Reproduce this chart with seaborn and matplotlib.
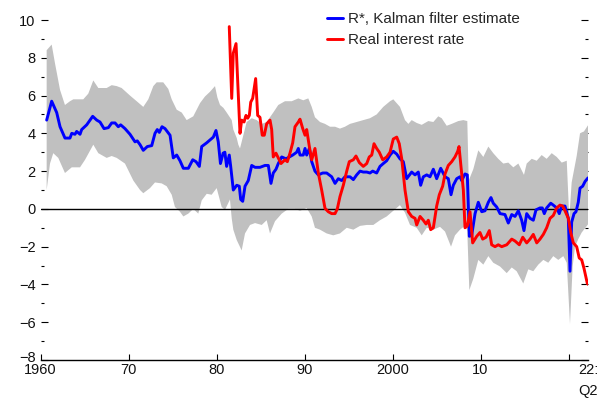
import numpy as np
import pandas as pd
import matplotlib
matplotlib.use("Agg")
import matplotlib.pyplot as plt
import matplotlib.transforms as mtransforms
import seaborn as sns

# R* (Kalman filter estimate), quarterly dates as decimal years
rstar_years = [1960.70, 1961.27, 1961.84, 1962.22, 1962.78, 1963.35, 1963.55, 1963.92, 1964.11, 1964.49,
               1964.68, 1965.25, 1965.93, 1966.39, 1966.76, 1967.22, 1967.71, 1968.09, 1968.47, 1968.84,
               1969.11, 1969.60, 1970.17, 1970.74, 1971.00, 1971.31, 1971.68, 1972.14, 1972.64, 1973.01,
               1973.27, 1973.50, 1973.81, 1974.15, 1974.72, 1975.09, 1975.48, 1975.85, 1976.23, 1976.80,
               1977.30, 1977.67, 1978.05, 1978.32, 1978.89, 1979.26, 1979.64, 1979.94, 1980.20, 1980.45,
               1980.75, 1980.95, 1981.15, 1981.45, 1981.60, 1981.91, 1982.30, 1982.59, 1982.75, 1982.98,
               1983.24, 1983.61, 1984.00, 1984.38, 1984.94, 1985.51, 1985.89, 1986.19, 1986.45, 1986.76,
               1987.02, 1987.41, 1987.90, 1988.27, 1988.66, 1989.11, 1989.30, 1989.49, 1989.86, 1990.06,
               1990.25, 1990.55, 1990.82, 1991.19, 1991.57, 1992.07, 1992.52, 1993.09, 1993.47, 1993.84,
               1994.23, 1994.60, 1995.17, 1995.55, 1995.93, 1996.31, 1996.68, 1997.07, 1997.44, 1997.75,
               1998.20, 1998.58, 1998.95, 1999.34, 1999.72, 2000.09, 2000.48, 2000.85, 2001.23, 2001.61,
               2002.18, 2002.56, 2002.93, 2003.20, 2003.50, 2003.89, 2004.26, 2004.64, 2005.02, 2005.48,
               2005.97, 2006.34, 2006.65, 2006.91, 2007.30, 2007.67, 2007.86, 2008.24, 2008.50, 2008.73,
               2009.00, 2009.38, 2009.75, 2010.14, 2010.51, 2010.89, 2011.19, 2011.45, 2011.84, 2012.22,
               2012.78, 2013.16, 2013.55, 2013.92, 2014.30, 2014.68, 2014.94, 2015.25, 2015.63, 2016.00,
               2016.31, 2016.76, 2017.02, 2017.25, 2017.52, 2017.98, 2018.27, 2018.66, 2018.95, 2019.23,
               2019.60, 2019.98, 2020.17, 2020.36, 2020.63, 2020.85, 2021.11, 2021.31, 2021.61, 2021.88,
               2022.14, 2022.25]
rstar_values = [4.7, 5.7, 5.1, 4.35, 3.75, 3.75, 4.0, 3.95, 4.1, 3.95,
                4.2, 4.45, 4.9, 4.7, 4.6, 4.25, 4.3, 4.55, 4.55, 4.35,
                4.45, 4.25, 3.95, 3.55, 3.6, 3.4, 3.1, 3.3, 3.35, 4.0,
                4.2, 4.05, 4.35, 4.25, 3.9, 2.7, 2.85, 2.55, 2.15, 2.15,
                2.6, 2.5, 2.25, 3.3, 3.5, 3.65, 3.8, 4.15, 3.55, 2.4,
                2.95, 3.0, 2.25, 2.85, 2.3, 1.0, 1.25, 1.2, 0.5, 0.4,
                1.2, 1.5, 2.3, 2.2, 2.2, 2.3, 2.3, 1.35, 1.9, 2.1,
                2.4, 2.75, 2.65, 2.75, 2.85, 3.0, 3.2, 2.85, 2.85, 3.2,
                2.85, 3.2, 2.5, 2.0, 1.8, 1.9, 1.9, 1.7, 1.35, 1.6,
                1.5, 1.7, 1.7, 1.55, 1.8, 2.0, 1.95, 1.95, 1.9, 2.0,
                1.9, 2.25, 2.4, 2.55, 2.85, 3.05, 2.9, 2.65, 2.5, 1.6,
                1.95, 1.8, 1.95, 1.25, 1.7, 1.8, 1.7, 2.1, 1.6, 2.15,
                1.7, 1.6, 0.75, 1.25, 1.6, 1.7, 1.5, 1.85, 1.8, -1.45,
                -1.4, -0.25, 0.35, -0.15, -0.1, 0.35, 0.6, 0.3, 0.1, -0.25,
                -0.3, -0.75, -0.3, -0.4, -0.1, -0.6, -1.15, -0.25, -0.5, -0.6,
                -0.05, 0.05, 0.05, -0.25, 0.05, 0.3, 0.2, 0.05, -0.25, 0.15,
                0.15, -0.5, -3.3, -0.7, -0.25, -0.15, 0.35, 1.1, 1.2, 1.45,
                1.6, 1.65]

# Real interest rate
real_years = [1981.45, 1981.73, 1981.91, 1982.22, 1982.67, 1982.86, 1983.13, 1983.35, 1983.55, 1983.73,
              1983.89, 1984.11, 1984.45, 1984.68, 1984.94, 1985.20, 1985.43, 1985.70, 1986.08, 1986.27,
              1986.45, 1986.76, 1987.02, 1987.33, 1987.78, 1988.05, 1988.35, 1988.66, 1988.92, 1989.30,
              1989.49, 1989.80, 1990.06, 1990.25, 1990.55, 1990.82, 1991.19, 1991.57, 1991.95, 1992.33,
              1992.70, 1993.09, 1993.47, 1993.73, 1994.03, 1994.41, 1994.80, 1995.09, 1995.55, 1995.85,
              1996.23, 1996.68, 1997.07, 1997.36, 1997.64, 1997.90, 1998.20, 1998.50, 1998.89, 1999.34,
              1999.72, 2000.09, 2000.48, 2000.77, 2001.05, 2001.42, 2001.80, 2002.18, 2002.56, 2002.75,
              2003.13, 2003.50, 2003.81, 2004.07, 2004.34, 2004.64, 2005.02, 2005.32, 2005.70, 2005.97,
              2006.34, 2006.73, 2007.10, 2007.41, 2007.56, 2007.78, 2008.05, 2008.24, 2008.50, 2008.81,
              2009.11, 2009.57, 2009.94, 2010.25, 2010.63, 2011.00, 2011.27, 2011.65, 2012.02, 2012.41,
              2012.98, 2013.55, 2013.92, 2014.41, 2014.80, 2015.25, 2015.63, 2016.00, 2016.39, 2016.76,
              2017.14, 2017.52, 2017.90, 2018.27, 2018.66, 2019.03, 2019.34, 2019.60, 2019.98, 2020.25,
              2020.55, 2020.93, 2021.22, 2021.50, 2021.76, 2022.14, 2022.25]
real_values = [9.65, 5.85, 8.25, 8.75, 4.0, 4.7, 4.6, 4.95, 4.8, 4.95,
               5.65, 5.85, 6.9, 4.95, 4.85, 3.9, 3.9, 4.5, 4.7, 4.2,
               2.75, 2.95, 2.7, 2.4, 2.6, 2.5, 2.95, 3.5, 4.35, 4.6,
               4.75, 4.25, 3.9, 4.2, 3.3, 2.6, 3.2, 1.9, 1.0, 0.03,
               -0.15, -0.25, -0.25, 0.0, 0.65, 1.25, 2.0, 2.5, 2.6, 2.8,
               2.45, 2.25, 2.4, 2.75, 2.85, 3.45, 3.2, 3.0, 2.6, 2.75,
               3.0, 3.7, 3.8, 3.45, 2.65, 1.0, -0.15, -0.4, -0.5, -0.85,
               -0.4, -0.6, -0.8, -0.6, -1.1, -1.0, 0.15, 0.75, 1.2, 1.85,
               2.3, 2.5, 2.75, 3.05, 3.3, 2.25, 1.0, -1.0, -0.9, -0.15,
               -1.8, -1.45, -1.25, -1.6, -1.5, -1.15, -1.9, -2.0, -1.9, -2.0,
               -1.9, -1.6, -1.7, -1.9, -1.5, -1.8, -1.6, -1.35, -1.8, -1.6,
               -1.35, -1.0, -0.5, -0.35, 0.05, 0.2, 0.15, -0.1, -0.5, -1.25,
               -1.8, -2.0, -2.6, -2.7, -3.15, -3.95, -4.0]

# Confidence band around R*: upper edge
band_upper_years = [1960.70, 1961.27, 1961.65, 1962.22, 1962.78, 1963.35, 1963.73, 1964.86, 1965.43, 1966.00,
                    1966.57, 1967.52, 1968.09, 1968.66, 1969.22, 1970.17, 1970.93, 1971.68, 1972.25, 1972.82,
                    1973.20, 1973.95, 1974.52, 1974.91, 1975.48, 1976.05, 1976.61, 1977.36, 1978.13, 1978.69,
                    1979.26, 1979.83, 1980.10, 1980.40, 1980.78, 1981.16, 1981.73, 1981.91, 1982.30, 1982.48,
                    1982.67, 1983.05, 1983.43, 1984.00, 1984.57, 1985.14, 1985.70, 1986.45, 1987.02, 1987.78,
                    1988.55, 1989.30, 1989.86, 1990.43, 1990.82, 1991.19, 1991.76, 1992.33, 1992.90, 1993.47,
                    1994.03, 1994.60, 1995.17, 1995.93, 1996.68, 1997.44, 1998.20, 1998.95, 1999.72, 2000.09,
                    2000.85, 2001.42, 2001.80, 2002.18, 2002.75, 2003.32, 2004.07, 2004.64, 2005.20, 2005.59,
                    2006.16, 2006.73, 2007.48, 2008.05, 2008.50, 2008.66, 2009.18, 2009.75, 2010.32, 2010.89,
                    2011.45, 2012.02, 2012.59, 2013.16, 2013.73, 2014.30, 2014.94, 2015.25, 2015.82, 2016.39,
                    2016.95, 2017.52, 2018.09, 2018.66, 2019.23, 2019.80, 2020.09, 2020.36, 2020.93, 2021.31,
                    2021.76, 2022.25]
band_upper_values = [8.4, 8.7, 7.7, 6.3, 5.5, 5.7, 5.8, 5.8, 6.1, 6.8,
                     6.4, 6.4, 6.55, 6.5, 6.4, 6.0, 5.7, 5.4, 5.8, 6.5,
                     6.7, 6.7, 6.35, 5.8, 5.25, 5.1, 4.7, 4.9, 5.6, 5.95,
                     6.2, 6.5, 5.9, 5.5, 5.35, 5.1, 4.7, 4.2, 3.75, 3.4,
                     3.2, 3.9, 4.6, 4.8, 4.7, 4.5, 4.6, 5.1, 5.5, 5.7,
                     5.7, 5.85, 5.75, 5.85, 5.4, 4.85, 4.6, 4.5, 4.35, 4.35,
                     4.25, 4.35, 4.5, 4.6, 4.7, 4.8, 5.0, 5.4, 5.7, 5.8,
                     5.4, 4.7, 4.5, 4.7, 4.55, 4.45, 4.65, 4.6, 4.9, 4.8,
                     4.4, 4.5, 4.65, 4.7, 4.65, 1.5, 2.1, 3.1, 2.75, 3.3,
                     2.95, 2.65, 2.4, 2.45, 2.2, 2.4, 1.8, 2.4, 2.65, 2.55,
                     2.85, 2.65, 2.95, 2.75, 2.45, 2.55, -0.5, 1.4, 2.8, 4.0,
                     4.1, 4.45]

# Confidence band around R*: lower edge
band_lower_years = [1960.70, 1961.08, 1961.45, 1962.02, 1962.78, 1963.55, 1964.49, 1965.06, 1966.00, 1966.57,
                    1967.52, 1968.09, 1968.66, 1969.60, 1970.55, 1971.31, 1971.68, 1972.44, 1973.01, 1973.77,
                    1974.34, 1974.91, 1975.28, 1975.85, 1976.23, 1976.80, 1977.36, 1977.93, 1978.32, 1978.89,
                    1979.45, 1980.02, 1980.59, 1980.97, 1981.53, 1981.73, 1981.91, 1982.30, 1982.86, 1983.24,
                    1983.81, 1984.38, 1985.14, 1985.70, 1986.08, 1986.65, 1987.41, 1988.16, 1988.92, 1989.49,
                    1990.25, 1990.82, 1991.19, 1991.76, 1992.52, 1993.27, 1994.03, 1994.80, 1995.55, 1996.31,
                    1997.07, 1997.82, 1998.58, 1999.34, 2000.09, 2000.85, 2001.42, 2001.99, 2002.75, 2003.32,
                    2003.89, 2004.64, 2005.40, 2005.97, 2006.65, 2007.10, 2007.67, 2008.35, 2008.50, 2008.73,
                    2009.18, 2009.75, 2010.32, 2010.89, 2011.45, 2012.22, 2012.98, 2013.55, 2014.11, 2014.86,
                    2015.43, 2016.00, 2016.57, 2017.14, 2017.70, 2018.27, 2018.84, 2019.41, 2019.80, 2020.17,
                    2020.47, 2020.74, 2021.11, 2021.50, 2022.25]
band_lower_values = [1.0, 2.4, 2.95, 2.7, 1.9, 2.2, 2.2, 2.6, 3.4, 2.95,
                     2.7, 2.8, 2.7, 2.4, 1.5, 1.0, 0.83, 1.1, 1.4, 1.35,
                     1.2, 0.75, 0.1, -0.15, -0.4, -0.25, 0.0, -0.25, 0.45, 0.8,
                     0.75, 1.1, 0.1, -0.05, 0.5, -0.5, -1.1, -1.65, -2.2, -1.3,
                     -0.85, -0.75, -0.85, -0.6, -1.3, -0.65, -0.25, 0.0, 0.0, -0.1,
                     0.05, -0.4, -1.0, -1.1, -1.3, -1.4, -1.3, -1.0, -1.1, -0.9,
                     -0.85, -0.85, -0.6, -0.4, -0.1, 0.2, -0.2, -0.85, -1.0, -1.4,
                     -1.0, -1.1, -0.95, -1.2, -2.0, -1.4, -1.1, -0.85, -1.2, -4.3,
                     -3.7, -2.7, -2.95, -2.5, -2.85, -3.05, -3.4, -3.1, -3.3, -3.95,
                     -3.2, -3.3, -2.95, -2.7, -2.85, -2.5, -2.7, -2.5, -2.85, -6.1,
                     -3.05, -2.0, -1.6, -1.25, -0.8]

# Axis ticks and labels
y_major = list(range(-8, 11, 2))
y_minor = list(range(-7, 10, 2))
x_major = [1960, 1970, 1980, 1990, 2000, 2010, 2020]
x_major_labels = ["1960", "70", "80", "90", "2000", "10", ""]
x_end = [2022.25]
x_end_labels = ["22:\nQ2"]

series_labels = ["R*, Kalman filter estimate", "Real interest rate"]

sns.set_theme(style="white")
plt.rcParams["font.family"] = ["Liberation Sans", "DejaVu Sans"]

W, H = 604, 408
fig = plt.figure(figsize=(W / 100, H / 100), dpi=100)
ax = fig.add_axes([40.5 / W, 1 - 360 / H, (588.3 - 40.5) / W, 340 / H])

# Shaded uncertainty band
band_x = np.concatenate([band_upper_years, band_lower_years[::-1]])
band_y = np.concatenate([band_upper_values, band_lower_values[::-1]])
ax.fill(band_x, band_y, color="#c0c0c0", lw=0, zorder=1)

ax.axhline(0, color="black", lw=1.0, zorder=2)

rstar_df = pd.DataFrame({"year": rstar_years, "value": rstar_values})
real_df = pd.DataFrame({"year": real_years, "value": real_values})
sns.lineplot(data=rstar_df, x="year", y="value", color="#0000ff", lw=2.1,
             estimator=None, ax=ax, label=series_labels[0], zorder=3)
sns.lineplot(data=real_df, x="year", y="value", color="#ff0000", lw=2.1,
             estimator=None, ax=ax, label=series_labels[1], zorder=4)

ax.set_xlim(1960, 2022.25)
ax.set_ylim(-8, 10)
ax.set_xlabel("")
ax.set_ylabel("")

ax.set_yticks(y_major)
ax.set_yticks(y_minor, minor=True)
ax.set_yticklabels([f"{v}".replace("-", "\u2212") for v in y_major])
ax.set_xticks(x_major)
ax.set_xticklabels(x_major_labels)
ax.set_xticks(x_end, minor=True)
ax.set_xticklabels(x_end_labels, minor=True)

ax.tick_params(axis="y", which="both", direction="in", left=True, right=True,
               labelleft=True, labelright=False, color="black", width=0.8,
               labelsize=10.5, pad=3.5, labelcolor="#111111")
ax.tick_params(axis="y", which="major", length=4.7)
ax.tick_params(axis="y", which="minor", length=2.4)
ax.tick_params(axis="x", which="major", direction="in", bottom=True, length=4.5,
               width=0.8, color="black", labelsize=10.5, pad=2.5, labelcolor="#111111")
ax.tick_params(axis="x", which="minor", bottom=True, length=0,
               labelsize=10.5, pad=2.5, labelcolor="#111111")
for lbl in ax.get_xticklabels(minor=True):
    lbl.set_linespacing(1.6)
    lbl.set_verticalalignment("top")

# Lift the bottom y label slightly so it clears the first year label
lowest = ax.get_yticklabels()[0]
lowest.set_transform(lowest.get_transform() +
                     mtransforms.ScaledTranslation(0, 3 / 100, fig.dpi_scale_trans))

for side in ["left", "right", "top"]:
    ax.spines[side].set_visible(False)
ax.spines["bottom"].set_color("black")
ax.spines["bottom"].set_linewidth(1.0)
ax.set_facecolor("none")
ax.grid(False)

handles, labels = ax.get_legend_handles_labels()
ax.legend(handles, labels, loc="upper left",
          bbox_to_anchor=(327 / W, 1 - 12 / H), bbox_transform=fig.transFigure,
          frameon=False, borderpad=0, borderaxespad=0, handlelength=1.05,
          handletextpad=0.33, labelspacing=0.45, fontsize=11)

fig.savefig("out.png", dpi=100)
